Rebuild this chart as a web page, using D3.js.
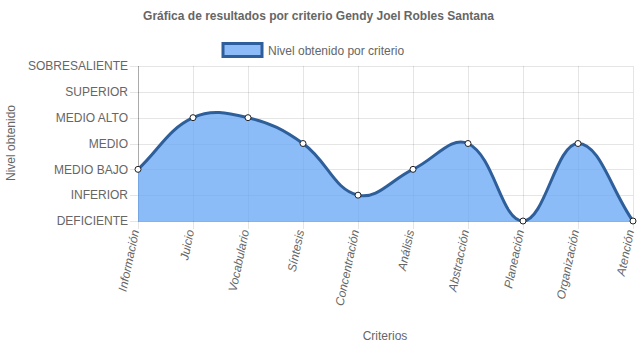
<!DOCTYPE html>
<html><head><meta charset="utf-8">
<script src="https://cdn.jsdelivr.net/npm/d3@7"></script>
<style>body{margin:0;background:#fff;}svg{display:block;font-family:"Liberation Sans",Arial,sans-serif;}</style>
</head><body>
<svg id="c" width="637" height="348"></svg>
<script>
const categories = ["Información","Juicio","Vocabulario","Síntesis","Concentración","Análisis","Abstracción","Planeación","Organización","Atención"];
const values = [2,4,4,3,1,2,3,0,3,0];
const levelLabels = ["DEFICIENTE","INFERIOR","MEDIO BAJO","MEDIO","MEDIO ALTO","SUPERIOR","SOBRESALIENTE"];
const seriesName = "Nivel obtenido por criterio";
const title = "Gráfica de resultados por criterio Gendy Joel Robles Santana";

const svg = d3.select("#c");
const L = 138, R = 633, T = 66, B = 221;
const x = d3.scalePoint().domain(categories).range([L, R]);
const y = d3.scaleLinear().domain([0, levelLabels.length - 1]).range([B, T]);
const grid = "rgba(0,0,0,0.1)";
const txt = "#666";

// title
svg.append("text").attr("x", 318.5).attr("y", 20).attr("text-anchor","middle")
  .attr("font-size",12).attr("font-weight","bold").attr("fill",txt).text(title);

// legend
svg.append("rect").attr("x",223).attr("y",43.5).attr("width",39).attr("height",13)
  .attr("fill","#8dbbf7").attr("stroke","#2e5f9a").attr("stroke-width",3);
svg.append("text").attr("x",268).attr("y",54.5).attr("font-size",12).attr("fill",txt).text(seriesName);

// y grid + ticks
const yTicks = d3.range(levelLabels.length);
const ya = svg.append("g");
ya.selectAll("line.g").data(yTicks).join("line")
  .attr("x1", L - 8).attr("x2", R).attr("y1", d => Math.round(y(d)) + 0.5).attr("y2", d => Math.round(y(d)) + 0.5)
  .attr("stroke", grid).attr("stroke-width",1);
ya.selectAll("text").data(yTicks).join("text")
  .attr("x", L - 10).attr("y", d => y(d)).attr("dy","0.36em").attr("text-anchor","end")
  .attr("font-size",12).attr("fill",txt).text(d => levelLabels[d]);

// x grid + ticks
const xa = svg.append("g");
xa.selectAll("line").data(categories).join("line")
  .attr("x1", d => Math.round(x(d)) + 0.5).attr("x2", d => Math.round(x(d)) + 0.5)
  .attr("y1", T).attr("y2", B + 8).attr("stroke", grid).attr("stroke-width",1);
xa.selectAll("text").data(categories).join("text")
  .attr("transform", d => `translate(${x(d)-2.5},${B + 9}) rotate(-78)`)
  .attr("text-anchor","end").attr("dy","0.32em")
  .attr("font-size",12).attr("font-style","italic").attr("fill",txt).text(d => d);

// axis lines (slightly darker)
svg.append("line").attr("x1",L+0.5).attr("x2",L+0.5).attr("y1",T).attr("y2",B).attr("stroke","rgba(0,0,0,0.25)");
svg.append("line").attr("x1",L).attr("x2",R).attr("y1",B+0.5).attr("y2",B+0.5).attr("stroke","rgba(0,0,0,0.25)");

// axis titles
svg.append("text").attr("x",385).attr("y",340).attr("text-anchor","middle").attr("font-size",12).attr("fill",txt).text("Criterios");
svg.append("text").attr("transform","translate(15,143) rotate(-90)").attr("text-anchor","middle").attr("font-size",12).attr("fill",txt).text("Nivel obtenido");

// Chart.js-style spline (tension 0.4) with control points capped to chart area
const pts = values.map((v,i) => ({x: x(categories[i]), y: y(v)}));
const t = 0.4;
const cps = pts.map((p,i) => {
  const prev = pts[i-1] || p, next = pts[i+1] || p;
  const d01 = Math.hypot(p.x-prev.x, p.y-prev.y), d12 = Math.hypot(next.x-p.x, next.y-p.y);
  let s01 = d01/(d01+d12), s12 = d12/(d01+d12);
  s01 = isNaN(s01)?0:s01; s12 = isNaN(s12)?0:s12;
  const fa = t*s01, fb = t*s12;
  const cap = (v,lo,hi) => Math.max(lo, Math.min(hi, v));
  return {
    px: cap(p.x - fa*(next.x-prev.x), L, R), py: cap(p.y - fa*(next.y-prev.y), T, B),
    nx: cap(p.x + fb*(next.x-prev.x), L, R), ny: cap(p.y + fb*(next.y-prev.y), T, B)
  };
});
let line = `M${pts[0].x},${pts[0].y}`;
for (let i = 1; i < pts.length; i++) {
  line += `C${cps[i-1].nx},${cps[i-1].ny},${cps[i].px},${cps[i].py},${pts[i].x},${pts[i].y}`;
}
const area = line + `L${pts[pts.length-1].x},${y(0)}L${pts[0].x},${y(0)}Z`;
svg.append("path").attr("d", area).attr("fill","rgba(100,165,245,0.75)");
svg.append("path").attr("d", line).attr("fill","none").attr("stroke","#2e5f9a").attr("stroke-width",3);
svg.selectAll("circle").data(pts).join("circle")
  .attr("cx", d => d.x).attr("cy", d => d.y).attr("r",3)
  .attr("fill","#fff").attr("stroke","#222").attr("stroke-width",1);
</script>
</body></html>
